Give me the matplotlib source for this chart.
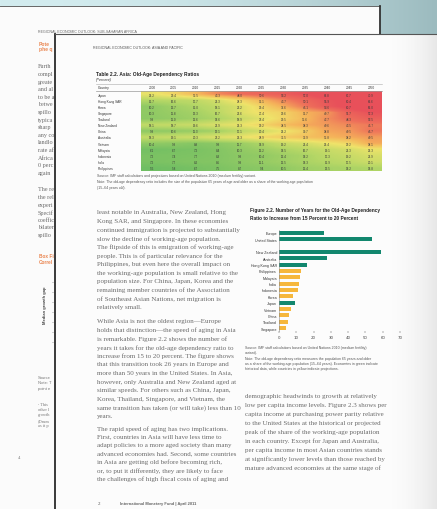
import numpy as np
import matplotlib.pyplot as plt
from matplotlib.colors import LinearSegmentedColormap, to_rgb
from matplotlib.patches import Rectangle

# Table 2.2 data
years = ['2000', '2005', '2010', '2015', '2020', '2025', '2030', '2035', '2040', '2045', '2050']
countries = ['Japan', 'Hong Kong SAR', 'Korea', 'Singapore', 'Thailand', 'New Zealand', 'China',
             'Australia', 'Vietnam', 'Malaysia', 'Indonesia', 'India', 'Philippines']
japan = [25.2, 29.4, 35.5, 43.3, 48.0, 50.6, 53.2, 57.0, 63.8, 67.7, 70.9]
hong_kong = [15.7, 16.6, 17.7, 21.3, 28.3, 36.1, 43.7, 50.1, 55.9, 60.4, 66.6]
korea = [10.2, 12.7, 15.0, 18.1, 22.2, 29.4, 37.6, 46.1, 54.6, 60.7, 65.0]
singapore = [10.3, 11.8, 13.3, 16.7, 22.6, 27.4, 29.6, 36.7, 40.7, 51.7, 57.3]
thailand = [9.9, 11.0, 12.6, 14.6, 18.9, 23.4, 29.5, 35.6, 42.7, 48.3, 52.5]
new_zealand = [18.1, 18.7, 19.6, 22.9, 25.3, 29.2, 34.5, 38.3, 40.6, 43.5, 45.7]
china = [9.9, 10.6, 11.3, 13.1, 17.1, 20.4, 25.2, 30.7, 38.8, 40.5, 46.7]
australia = [18.3, 19.1, 20.3, 23.2, 25.3, 28.9, 31.5, 33.9, 35.8, 38.2, 40.5]
vietnam = [10.4, 9.9, 8.8, 9.8, 11.7, 14.9, 19.2, 21.4, 25.4, 29.2, 38.1]
malaysia = [6.1, 6.7, 7.2, 8.4, 10.3, 12.2, 14.5, 16.7, 19.1, 21.3, 25.3]
indonesia = [7.2, 7.4, 7.7, 8.3, 9.8, 10.4, 12.4, 14.2, 17.3, 19.2, 21.9]
india = [7.2, 7.7, 8.2, 8.5, 9.8, 11.1, 12.5, 14.3, 15.9, 17.5, 20.1]
philippines = [5.5, 5.8, 6.7, 7.5, 8.7, 9.4, 10.5, 12.4, 13.5, 14.2, 14.8]
ratios = np.array([japan, hong_kong, korea, singapore, thailand, new_zealand, china,
                   australia, vietnam, malaysia, indonesia, india, philippines])

# Figure 2.2 data (years for ratio to go from 15 to 20 percent)
bar_labels = ['Europe', 'United States', '', 'New Zealand', 'Australia', 'Hong Kong SAR',
              'Philippines', 'Malaysia', 'India', 'Indonesia', 'Korea', 'Japan',
              'Vietnam', 'China', 'Thailand', 'Singapore']
bar_years = [26, 54, 0, 59, 28, 16, 13, 12, 11.5, 11, 8, 9, 7, 6, 5, 4]
bar_historical = [True, True, True, True, True, True, False, False, False, False,
                  False, True, False, False, False, False]

W, H = 437, 510
fig = plt.figure(figsize=(4.37, 5.10), dpi=100)
ax = fig.add_axes([0, 0, 1, 1])

serif = 'Liberation Serif'
sans = 'Liberation Sans'
body_col = '#6a6a6a'

# background behind the pages
gx = np.linspace(0, 1, 300) ** 2
c0, c1 = np.array(to_rgb('#d3ecef')), np.array(to_rgb('#9cbbbf'))
bg = c0 + (c1 - c0) * gx[None, :, None]
ax.imshow(bg, extent=[0, W, H, 0], aspect='auto', zorder=0)

# back page (only a strip of it shows left of the front page)
ax.add_patch(Rectangle((0, 7), 380, H, facecolor='#fbfbfb', edgecolor='none', zorder=1))
ax.plot([0, 380], [7, 7], color='#666666', lw=0.7, zorder=1.5)
ax.plot([380, 380], [7, 40], color='#333333', lw=1.3, zorder=1.5)

ax.text(38, 32, 'REGIONAL ECONOMIC OUTLOOK: SUB-SAHARAN AFRICA', fontsize=2.6,
        family=sans, color='#666666', va='center', zorder=2)
for y, t in [(44, 'Pote'), (50, 'phe q')]:
    ax.text(39, y, t, fontsize=3.6, family=sans, weight='bold', color='#ea8550',
            va='center', zorder=2)
back_lines = ['Furth', 'compl', 'greate', 'and al', 'to be a', 'betwe', 'spillo',
              'typica', 'sharp', 'any co', 'landlo', 'rate af', 'Africa', '0 perc', 'again']
for i, t in enumerate(back_lines):
    ax.text(38, 67 + i * 7.6, t, fontsize=4.4, family=serif, color=body_col, va='center', zorder=2)
back_lines2 = ['The re', 'the rel', 'experi', 'Specif', 'coeffic', 'bilater', 'spillo']
for i, t in enumerate(back_lines2):
    ax.text(38, 190 + i * 7.6, t, fontsize=4.4, family=serif, color=body_col, va='center', zorder=2)
for y, t in [(257, 'Box Fi'), (263, 'Correl')]:
    ax.text(39, y, t, fontsize=3.4, family=sans, weight='bold', color='#ea8550',
            va='center', zorder=2)
ax.text(45, 305, 'Median growth gap', fontsize=3.0, family=sans, weight='bold',
        color='#444444', rotation=90, ha='center', va='center', zorder=2)
for i in range(7):
    ax.text(52, 282 + i * 10, '–', fontsize=3, family=sans, color='#555555',
            va='center', zorder=2)
for i, t in enumerate(['Source', 'Note: T', 'point e']):
    ax.text(38, 378 + i * 5.5, t, fontsize=3.0, family=sans, color='#777777', va='center', zorder=2)
for i, t in enumerate(['¹ This', 'other l', 'growth', '(Drum', 'as it p']):
    ax.text(38, 405 + i * 5.2, t, fontsize=3.2, family=serif, color='#777777', va='center', zorder=2)
ax.text(18, 458, '4', fontsize=3.4, family=serif, color='#777777', va='center', zorder=2)

# front page
ax.add_patch(Rectangle((55, 35), W, H, facecolor='#fcfcfc', edgecolor='none', zorder=3))
ax.plot([55, 55], [35, H], color='#2a2a2a', lw=1.3, zorder=3.5)
ax.plot([55, W], [35, 35], color='#555555', lw=0.8, zorder=3.5)
shade = np.zeros((1, 100, 4))
shade[..., :3] = 0.62
shade[..., 3] = np.linspace(0, 1, 100) ** 2 * 0.22
ax.imshow(shade, extent=[385, W, H, 36], aspect='auto', zorder=3.2)

ax.text(93, 48, 'REGIONAL ECONOMIC OUTLOOK: ASIA AND PACIFIC', fontsize=2.6, family=sans,
        color='#555555', va='center', zorder=5)

# Table 2.2
tx0, tx1, ty0, ty1 = 141, 382, 92.7, 172
cw = (tx1 - tx0) / len(years)
rh = (ty1 - ty0) / len(countries)
ax.text(96, 74.5, 'Table 2.2. Asia: Old-Age Dependency Ratios', fontsize=3.5, family=sans,
        weight='bold', color='#222222', va='center', zorder=5)
ax.text(96, 80.3, '(Percent)', fontsize=2.8, family=sans, style='italic', color='#333333',
        va='center', zorder=5)
ax.plot([96, tx1], [85, 85], color='#aaaaaa', lw=0.4, zorder=5)
ax.plot([96, tx1], [91.5, 91.5], color='#999999', lw=0.5, zorder=5)
ax.text(98, 88.3, 'Country', fontsize=2.4, family=sans, color='#333333', va='center', zorder=5)
for j, y in enumerate(years):
    ax.text(tx0 + (j + 0.5) * cw, 88.3, y, fontsize=2.3, family=sans, color='#333333',
            ha='center', va='center', zorder=5)
heat = LinearSegmentedColormap.from_list(
    'heat', ['#6dbd63', '#b5d766', '#efe36a', '#f5b35a', '#ee6f5a', '#e8505a'])
ax.imshow(ratios, cmap=heat, vmin=5, vmax=58, extent=[tx0, tx1, ty1, ty0], aspect='auto',
          interpolation='bilinear', zorder=4)
for i, c in enumerate(countries):
    yc = ty0 + (i + 0.5) * rh
    ax.text(98, yc, c, fontsize=2.3, family=sans, color='#333333', va='center', zorder=5)
    for j in range(len(years)):
        ax.text(tx0 + (j + 0.5) * cw, yc, f'{ratios[i, j]:.1f}', fontsize=2.2, family=sans,
                color='#3a3a3a', ha='center', va='center', zorder=5)
ax.text(97, 176, 'Source: IMF staff calculations and projections based on United Nations 2010 '
        '(medium fertility) variant.', fontsize=2.5, family=sans, color='#555555', va='center', zorder=5)
ax.text(97, 182.5, 'Note: The old-age dependency ratio includes the size of the population 65 years '
        'of age and older as a share of the working-age population', fontsize=2.5, family=sans,
        color='#555555', va='center', zorder=5)
ax.text(97, 188.5, '(15–64 years old).', fontsize=2.5, family=sans, color='#555555',
        va='center', zorder=5)

# body text
para1 = ['least notable in Australia, New Zealand, Hong',
         'Kong SAR, and Singapore. In these economies',
         'continued immigration is projected to substantially',
         'slow the decline of working-age population.',
         'The flipside of this is emigration of working-age',
         'people. This is of particular relevance for the',
         'Philippines, but even here the overall impact on',
         'the working-age population is small relative to the',
         'population size. For China, Japan, Korea and the',
         'remaining member countries of the Association',
         'of Southeast Asian Nations, net migration is',
         'relatively small.']
para2 = ['While Asia is not the oldest region—Europe',
         'holds that distinction—the speed of aging in Asia',
         'is remarkable. Figure 2.2 shows the number of',
         'years it takes for the old-age dependency ratio to',
         'increase from 15 to 20 percent. The figure shows',
         'that this transition took 26 years in Europe and',
         'more than 50 years in the United States. In Asia,',
         'however, only Australia and New Zealand aged at',
         'similar speeds. For others such as China, Japan,',
         'Korea, Thailand, Singapore, and Vietnam, the',
         'same transition has taken (or will take) less than 10',
         'years.']
para3 = ['The rapid speed of aging has two implications.',
         'First, countries in Asia will have less time to',
         'adapt policies to a more aged society than many',
         'advanced economies had. Second, some countries',
         'in Asia are getting old before becoming rich,',
         'or, to put it differently, they are likely to face',
         'the challenges of high fiscal costs of aging and']
para4 = ['demographic headwinds to growth at relatively',
         'low per capita income levels. Figure 2.3 shows per',
         'capita income at purchasing power parity relative',
         'to the United States at the historical or projected',
         'peak of the share of the working-age population',
         'in each country. Except for Japan and Australia,',
         'per capita income in most Asian countries stands',
         'at significantly lower levels than those reached by',
         'mature advanced economies at the same stage of']
for lines, x0, y0, dy in [(para1, 97, 213, 8.6), (para2, 97, 322, 8.6),
                          (para3, 97, 429, 8.35), (para4, 245, 397, 8.85)]:
    for i, t in enumerate(lines):
        ax.text(x0, y0 + i * dy, t, fontsize=5.0, family=serif, color=body_col,
                va='center', zorder=5)

# Figure 2.2 title and notes
ax.text(250, 210.7, 'Figure 2.2. Number of Years for the Old-Age Dependency', fontsize=3.4,
        family=sans, weight='bold', color='#222222', va='center', zorder=5)
ax.text(250, 218.3, 'Ratio to Increase from 15 Percent to 20 Percent', fontsize=3.4,
        family=sans, weight='bold', color='#222222', va='center', zorder=5)
fig_notes = ['Source: IMF staff calculations based on United Nations 2010 (medium fertility)',
             'variant).',
             'Note: The old-age dependency ratio measures the population 65 years and older',
             'as a share of the working-age population (15–64 years). Economies in green indicate',
             'historical data, while countries in yellow indicate projections.']
for t, y in zip(fig_notes, [348.3, 353.3, 359.3, 364.2, 369.3]):
    ax.text(245, y, t, fontsize=2.5, family=sans, color='#555555', va='center', zorder=5)

# footer
ax.text(98, 504, '2', fontsize=3.6, family=serif, color='#555555', va='center', zorder=5)
ax.text(120, 504, 'International Monetary Fund | April 2011', fontsize=2.9, family=sans,
        weight='bold', color='#666666', va='center', zorder=5)

ax.set_xlim(0, W)
ax.set_ylim(H, 0)
ax.axis('off')

# Figure 2.2 bar chart
n = len(bar_labels)
slot = (329 - 234) / (n - 1)
top_px, bot_px = 234 - slot / 2, 329 + slot / 2
left_px, right_px = 279, 400
bx = fig.add_axes([left_px / W, 1 - bot_px / H, (right_px - left_px) / W, (bot_px - top_px) / H])
bx.set_facecolor('none')
pos = np.arange(n)
colors = ['#12876e' if h else '#f6b73c' for h in bar_historical]
bx.barh(pos, bar_years, height=0.6, color=colors)
bx.set_ylim(n - 0.5, -0.5)
bx.set_xlim(0, 70)
bx.set_xticks(range(0, 71, 10))
bx.set_yticks(pos)
bx.set_yticklabels(bar_labels, fontsize=2.6, family=sans, color='#333333')
bx.tick_params(axis='x', labelsize=2.8, length=1.5, width=0.3, pad=1.5, colors='#444444')
bx.tick_params(axis='y', length=0, pad=1.5)
for s in ['top', 'right', 'bottom']:
    bx.spines[s].set_visible(False)
bx.spines['left'].set_linewidth(0.4)
bx.spines['left'].set_color('#888888')

fig.savefig('out.png', dpi=100)
